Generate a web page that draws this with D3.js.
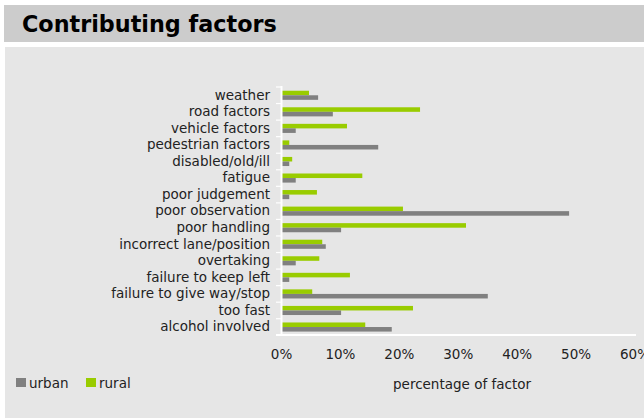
<!DOCTYPE html>
<html>
<head>
<meta charset="utf-8">
<script src="https://cdn.jsdelivr.net/npm/d3@7"></script>
<style>
  html, body { margin: 0; padding: 0; background: #ffffff; }
  svg { display: block; font-family: "DejaVu Sans", Verdana, sans-serif; }
</style>
</head>
<body>
<svg id="chart" width="644" height="419"></svg>
<script>
const categories = ["weather", "road factors", "vehicle factors", "pedestrian factors", "disabled/old/ill",
  "fatigue", "poor judgement", "poor observation", "poor handling", "incorrect lane/position",
  "overtaking", "failure to keep left", "failure to give way/stop", "too fast", "alcohol involved"];
const rural = [4.75, 23.6, 11.2, 1.4, 1.9, 13.8, 6.1, 20.7, 31.4, 7.0, 6.5, 11.7, 5.3, 22.4, 14.3];
const urban = [6.3, 8.8, 2.5, 16.5, 1.4, 2.5, 1.4, 48.9, 10.2, 7.6, 2.5, 1.4, 35.1, 10.2, 18.8];
const xTicks = [0, 10, 20, 30, 40, 50, 60];
const seriesNames = ["urban", "rural"];
const colors = { urban: "#808080", rural: "#99cc00" };

const FS = 13.5;
const svg = d3.select("#chart");

// title band and panel
svg.append("rect").attr("x", 4).attr("y", 5).attr("width", 640).attr("height", 37).attr("fill", "#cccccc");
svg.append("rect").attr("x", 5).attr("y", 47).attr("width", 639).attr("height", 371).attr("fill", "#e6e6e6");
svg.append("text").attr("x", 22).attr("y", 32).attr("font-size", 22.3).attr("font-weight", "bold")
  .attr("fill", "#000").text("Contributing factors");

const x = d3.scaleLinear().domain([0, 60]).range([281, 634.5]);
const y = d3.scaleBand().domain(categories).range([87, 335.3]).paddingInner(0.45).paddingOuter(0.225);
const step = y.step();
const sub = d3.scaleBand().domain(["rural", "urban"]).range([0, y.bandwidth()]);

const rows = categories.map((c, i) => ({ c, rural: rural[i], urban: urban[i] }));
const g = svg.append("g");
rows.forEach(r => {
  ["rural", "urban"].forEach(s => {
    g.append("rect")
      .attr("x", x(0))
      .attr("y", y(r.c) + sub(s))
      .attr("width", x(r[s]) - x(0))
      .attr("height", sub.bandwidth())
      .attr("fill", colors[s]);
  });
});

// category labels
const yAxis = d3.axisLeft(y).tickSize(0).tickPadding(11);
const ya = svg.append("g").attr("transform", `translate(281,0)`).call(yAxis);
ya.select(".domain").remove();
ya.selectAll("text").attr("font-size", FS).attr("fill", "#222").attr("font-family", "DejaVu Sans, Verdana, sans-serif");

// axis lines (white)
svg.append("line").attr("x1", 281.5).attr("x2", 281.5).attr("y1", 86).attr("y2", 336)
  .attr("stroke", "#fff").attr("stroke-width", 2);
svg.append("line").attr("x1", 276).attr("x2", 636).attr("y1", 335).attr("y2", 335)
  .attr("stroke", "#fff").attr("stroke-width", 2);
const boundaries = d3.range(categories.length + 1).map(i => 87 + i * step);
svg.selectAll(".btick").data(boundaries).enter().append("line")
  .attr("x1", 276).attr("x2", 282).attr("y1", d => d).attr("y2", d => d)
  .attr("stroke", "#fff").attr("stroke-width", 1.2);

// x tick labels
const xAxis = d3.axisBottom(x).tickValues(xTicks).tickSize(0).tickPadding(0).tickFormat(d => d + "%");
const xa = svg.append("g").attr("transform", `translate(0,349)`).call(xAxis);
xa.select(".domain").remove();
xa.selectAll("text").attr("font-size", FS).attr("fill", "#222").attr("font-family", "DejaVu Sans, Verdana, sans-serif");

svg.append("text").attr("x", 462).attr("y", 389).attr("text-anchor", "middle")
  .attr("font-size", FS).attr("fill", "#222").text("percentage of factor");

// legend
const legendX = [16, 86];
seriesNames.forEach((s, i) => {
  svg.append("rect").attr("x", legendX[i]).attr("y", 378).attr("width", 10).attr("height", 9).attr("fill", colors[s]);
  svg.append("text").attr("x", legendX[i] + 13).attr("y", 388).attr("font-size", FS).attr("fill", "#222").text(s);
});
</script>
</body>
</html>
